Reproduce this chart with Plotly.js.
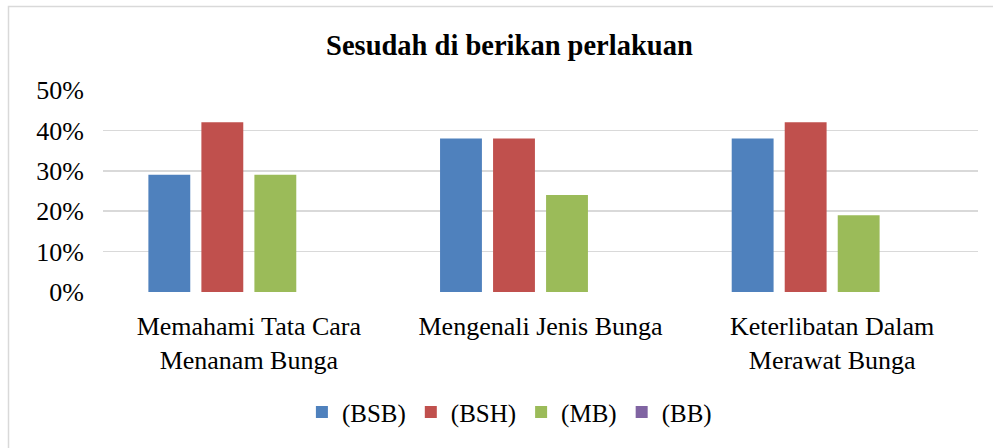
<!DOCTYPE html>
<html>
<head>
<meta charset="utf-8">
<script src="https://cdn.plot.ly/plotly-3.0.1.min.js"></script>
<style>html,body{margin:0;padding:0;background:#fff;}#chart{width:993px;height:448px;}</style>
</head>
<body>
<div id="chart"></div>
<script>
const categories = ["Memahami Tata Cara<br>Menanam Bunga", "Mengenali Jenis Bunga", "Keterlibatan Dalam<br>Merawat Bunga"];
const seriesNames = ["(BSB)", "(BSH)", "(MB)", "(BB)"];
const bsb = [0.29, 0.38, 0.38];
const bsh = [0.42, 0.38, 0.42];
const mb = [0.29, 0.24, 0.19];
const bb = [0, 0, 0];
const colors = ["#4F81BD", "#C0504D", "#9BBB59", "#8064A2"];
const tickVals = [0, 0.1, 0.2, 0.3, 0.4, 0.5];
const tickText = ["0%", "10%", "20%", "30%", "40%", "50%"];

const font = "Liberation Serif, Cambria, serif";
const values = [bsb, bsh, mb, bb];
const traces = values.map((v, i) => ({
  type: "bar", x: categories, y: v, name: seriesNames[i],
  marker: {color: colors[i]}, hoverinfo: "none"
}));

const layout = {
  width: 993, height: 448,
  margin: {l: 103, r: 15, t: 90, b: 156},
  paper_bgcolor: "#fff", plot_bgcolor: "#fff",
  font: {family: font, size: 26, color: "#000"},
  title: {text: "<b>Sesudah di berikan perlakuan</b>", font: {family: font, size: 28.5, color: "#000"},
          x: 0.513, xref: "container", xanchor: "center", y: 0.9, yref: "container", yanchor: "middle"},
  barmode: "group", bargap: 0.273, bargroupgap: 0.21,
  xaxis: {showgrid: false, zeroline: false, showline: false, ticks: "", tickfont: {size: 26},
          ticklabelstandoff: 16, fixedrange: true},
  yaxis: {range: [0, 0.5], tickvals: tickVals, ticktext: tickText, showgrid: true, gridcolor: "#D9D9D9",
          gridwidth: 1.6, zeroline: false, showline: false, ticks: "", tickfont: {size: 26},
          ticklabelstandoff: 18, fixedrange: true},
  showlegend: true,
  legend: {orientation: "h", x: 0.513, xref: "container", xanchor: "center", y: 0.08, yref: "container", yanchor: "middle",
           font: {size: 25}, itemwidth: 20, traceorder: "normal"},
  shapes: [{type: "rect", xref: "paper", yref: "paper", x0: (8.5-103)/875, x1: 1.2, y0: -1.0, y1: (292-6.5)/202,
            line: {color: "#D9D9D9", width: 1.5}, fillcolor: "rgba(0,0,0,0)", layer: "below"}]
};
Plotly.newPlot("chart", traces, layout, {displayModeBar: false, staticPlot: true});
</script>
</body>
</html>
